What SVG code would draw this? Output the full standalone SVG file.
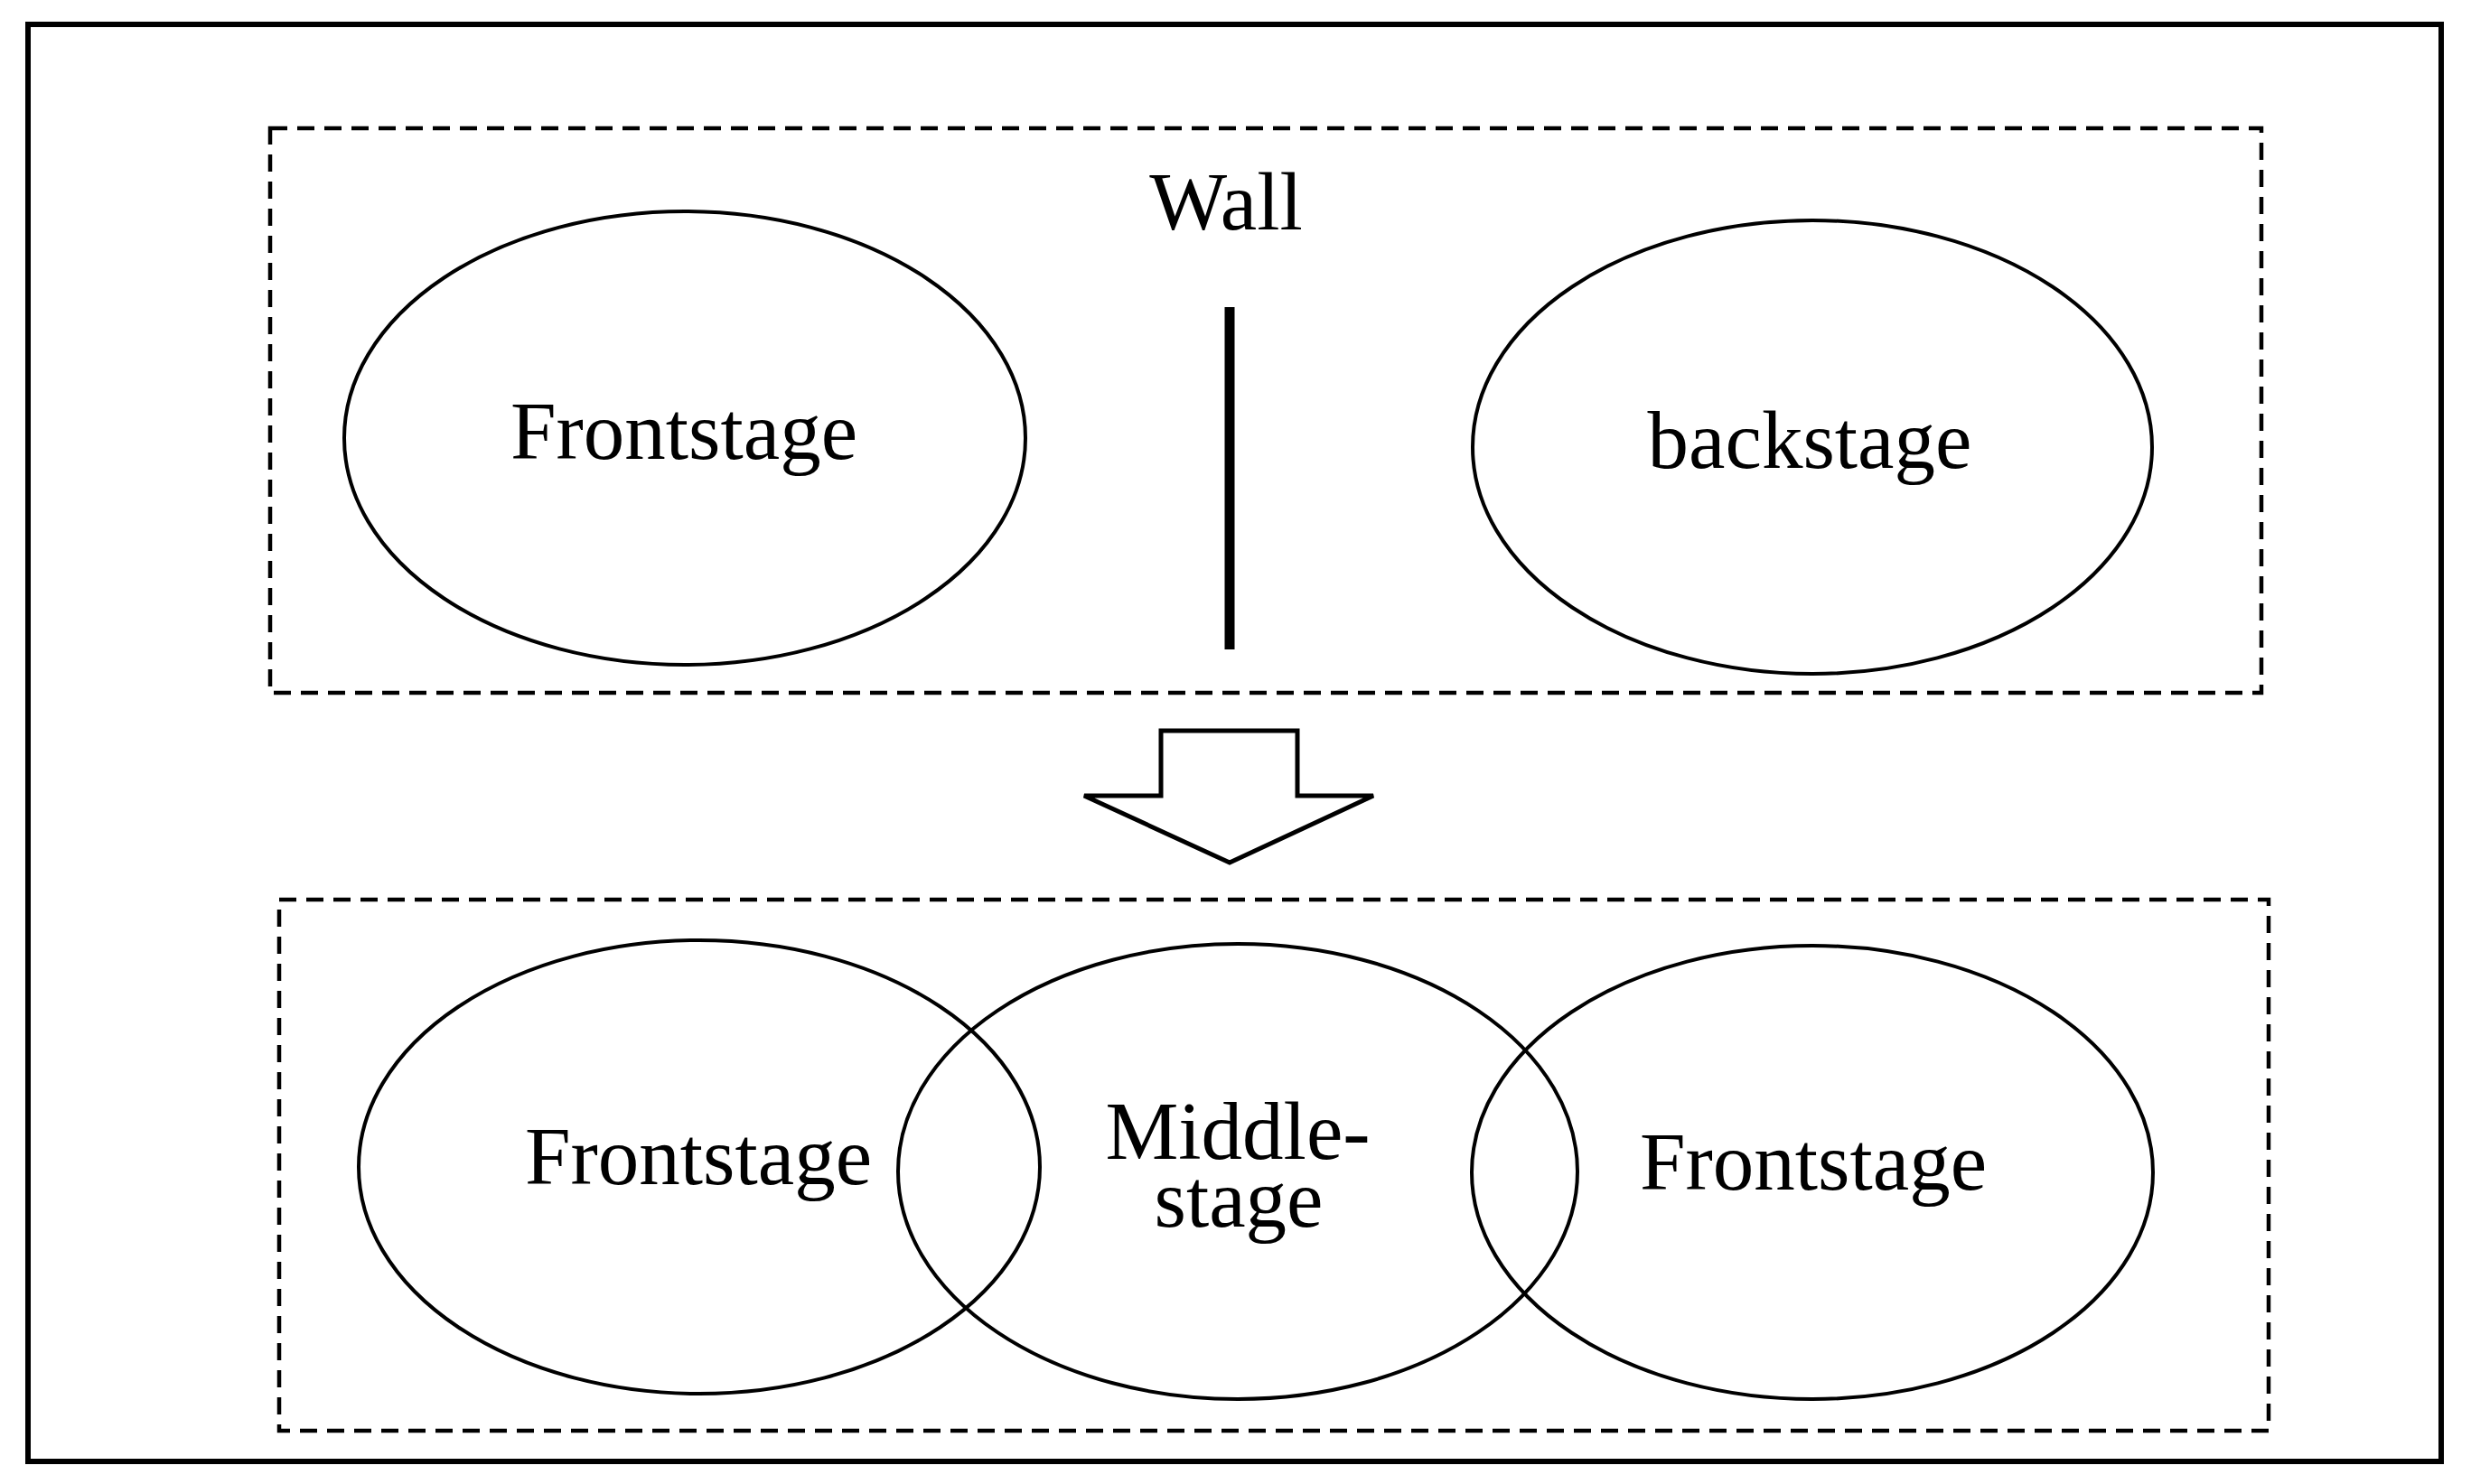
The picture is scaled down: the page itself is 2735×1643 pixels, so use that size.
<svg xmlns="http://www.w3.org/2000/svg" width="2735" height="1643" viewBox="0 0 2735 1643">
<style>
.lbl{font-family:"Liberation Serif","Times New Roman",serif;font-size:91px;fill:#000;text-anchor:middle}
.ell{fill:none;stroke:#000;stroke-width:4}
.dash{fill:none;stroke:#000;stroke-width:4.5;stroke-dasharray:19 11}
</style>
<rect x="0" y="0" width="2735" height="1643" fill="#fff"/>
<rect id="frame" x="31" y="27" width="2671" height="1591" fill="none" stroke="#000" stroke-width="6"/>
<g id="top-group">
<rect class="dash" x="299" y="142" width="2204" height="625"/>
</g>
<g id="bottom-group">
<rect class="dash" x="309" y="996" width="2202" height="588"/>
</g>
<g id="wall">
<text class="lbl" x="1357" y="254" font-size="86">Wall</text>
<line x1="1361" y1="340" x2="1361" y2="719" stroke="#000" stroke-width="11"/>
</g>
<g id="frontstage-top">
<ellipse class="ell" cx="758" cy="485" rx="377" ry="251"/>
<text class="lbl" x="757" y="508">Frontstage</text>
</g>
<g id="backstage">
<ellipse class="ell" cx="2006" cy="495" rx="376" ry="251"/>
<text class="lbl" x="2003" y="518">backstage</text>
</g>
<g id="connectors">
<polygon points="1285,809 1436,809 1436,881 1520,881 1361,955 1200,881 1285,881" fill="#fff" stroke="#000" stroke-width="5" stroke-linejoin="miter"/>
</g>
<g id="frontstage-left">
<ellipse class="ell" cx="774" cy="1292" rx="377" ry="251"/>
<text class="lbl" x="773" y="1311">Frontstage</text>
</g>
<g id="middlestage">
<ellipse class="ell" cx="1370" cy="1297" rx="376" ry="252"/>
<text class="lbl" x="1370" y="1283">Middle-</text>
<text class="lbl" x="1371" y="1358">stage</text>
</g>
<g id="frontstage-right">
<ellipse class="ell" cx="2006" cy="1298" rx="377" ry="251"/>
<text class="lbl" x="2007" y="1317">Frontstage</text>
</g>
</svg>
